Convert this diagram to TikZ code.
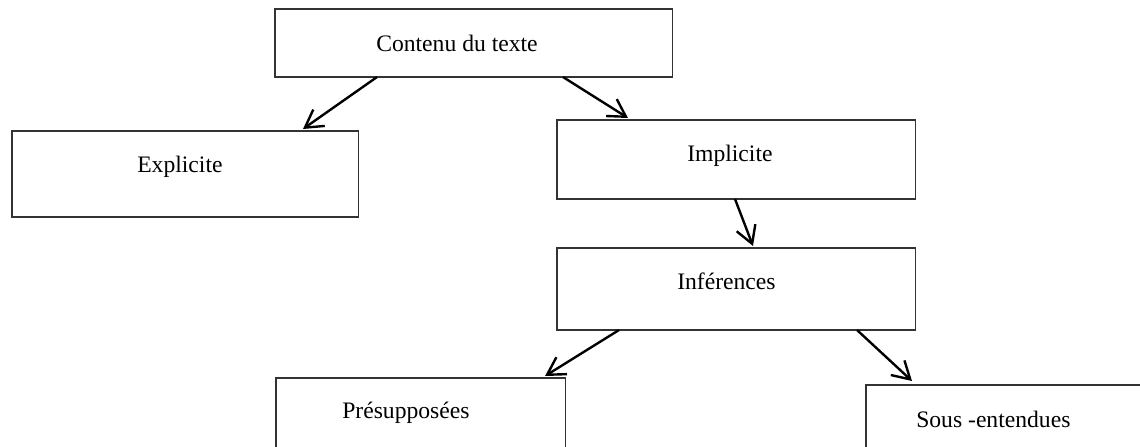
\documentclass[tikz,border=0pt]{standalone}
\usepackage{fontspec}
\setmainfont{Liberation Serif}
\usetikzlibrary{arrows.meta,positioning,calc}

\begin{document}
\begin{tikzpicture}[
    x=0.025cm, y=-0.025cm,
    mybox/.style={
       rectangle,
       draw=black!80,
       line width=0.8pt,
       inner sep=0pt,
       outer sep=0pt,
       anchor=north west},
    mytext/.style={
       inner sep=0pt,
       anchor=base west,
       font=\fontsize{16.8}{20}\selectfont},
    myarrow/.style={-{Straight Barb[length=4.3mm,width=5mm]},line width=1.7pt}
    ]
    \useasboundingbox (0,0) rectangle (1140,447);

    \node[mybox,minimum width=9.925cm,minimum height=1.7cm] (c1) at (275,9) {};
    \node[mybox,minimum width=8.65cm,minimum height=2.15cm] (c2) at (12,131) {};
    \node[mybox,minimum width=8.95cm,minimum height=1.975cm] (c3) at (557,120) {};
    \node[mybox,minimum width=8.95cm,minimum height=2.05cm] (c4) at (557,248) {};
    \node[mybox,minimum width=7.225cm,minimum height=2.3cm] (c5) at (276,378) {};
    \node[mybox,minimum width=7.35cm,minimum height=2.125cm] (c6) at (866,385) {};

    \node[mytext] (t1) at (376,51) {Contenu du texte};
    \node[mytext] (t2) at (137,172) {Explicite};
    \node[mytext] (t3) at (687,161) {Implicite};
    \node[mytext] (t4) at (677,289) {Inférences};
    \node[mytext] (t5) at (342,418) {Présupposées};
    \node[mytext] (t6) at (916,427) {Sous -entendues};

  \foreach \i/\a/\j/\b in {% start anchor/shift/end anchor/shift
    c1.south west/{102,0}/c2.north west/{291,-2},
    c1.south west/{288,0}/c3.north west/{71,-2},
    c3.south west/{178,0}/c4.north west/{196,-2},
    c4.south west/{62,0}/c5.north east/{-20,-2},
    c4.south west/{300,0}/c6.north west/{46,-4}}
     \draw [myarrow] ($(\i)+(\a)$) -- ($(\j)+(\b)$);
\end{tikzpicture}
\end{document}
